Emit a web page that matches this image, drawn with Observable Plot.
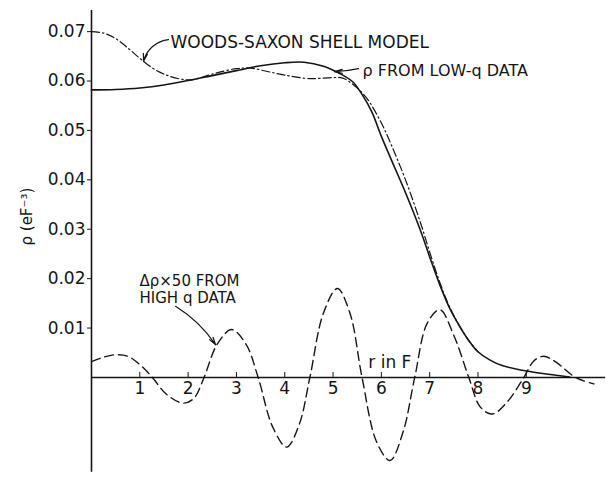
<!DOCTYPE html>
<html><head><meta charset="utf-8">
<script src="https://cdn.jsdelivr.net/npm/d3@7"></script>
<script src="https://cdn.jsdelivr.net/npm/@observablehq/plot@0.6"></script>
<style>html,body{margin:0;padding:0;background:#fff}</style>
</head><body><div id="chart"></div>
<script>
// ρ from low-q data (solid)
const lowR   = [0, 0.5, 1, 1.5, 2, 2.5, 3, 3.5, 4, 4.4, 4.8, 5.1, 5.4, 5.6, 5.8, 6.0, 6.2, 6.5, 6.8, 7.0, 7.2, 7.4, 7.6, 7.8, 8.0, 8.25, 8.5, 9.0, 9.5, 9.9];
const lowRho = [0.0582, 0.0583, 0.0586, 0.0592, 0.0601, 0.0611, 0.0621, 0.0631, 0.0637, 0.0638, 0.0630, 0.0617, 0.0599, 0.0573, 0.0538, 0.0488, 0.0442, 0.0374, 0.0300, 0.0244, 0.0190, 0.0143, 0.0107, 0.0076, 0.0052, 0.0035, 0.0024, 0.0013, 0.0006, 0.0001];
// Woods-Saxon shell model (dash-dot)
const wsR   = [0, 0.25, 0.5, 0.75, 1.0, 1.25, 1.5, 1.84, 2.1, 2.5, 3.0, 3.3, 3.7, 4.0, 4.5, 5.0, 5.2, 5.45, 5.7, 6.0, 6.2, 6.5, 6.8, 7.0, 7.2, 7.4, 7.6, 7.8, 8.0];
const wsRho = [0.0700, 0.0697, 0.0686, 0.0667, 0.0646, 0.0627, 0.0614, 0.0604, 0.0603, 0.0614, 0.0625, 0.0626, 0.0618, 0.0612, 0.0605, 0.0607, 0.0606, 0.0590, 0.0565, 0.0515, 0.0472, 0.0400, 0.0316, 0.0254, 0.0195, 0.0145, 0.0107, 0.0076, 0.0052];
// Δρ × 50 from high-q data (dashed)
const dR   = [0, 0.25, 0.5, 0.75, 1.0, 1.26, 1.55, 1.9, 2.12, 2.33, 2.6, 2.9, 3.2, 3.45, 3.75, 4.04, 4.3, 4.52, 4.8, 5.09, 5.35, 5.6, 5.9, 6.18, 6.45, 6.69, 6.95, 7.21, 7.5, 7.81, 8.05, 8.3, 8.6, 8.95, 9.15, 9.36, 9.6, 10.02, 10.4];
const dRho = [0.0032, 0.0041, 0.0046, 0.0043, 0.0026, 0.0, -0.0034, -0.0052, -0.0042, 0.0, 0.0067, 0.0097, 0.0067, 0.0, -0.0100, -0.0141, -0.0095, 0.0, 0.0130, 0.0180, 0.0130, 0.0, -0.0130, -0.0168, -0.0110, 0.0, 0.0110, 0.0137, 0.0085, 0.0, -0.0060, -0.0074, -0.0050, 0.0, 0.0033, 0.0043, 0.0032, 0.0, -0.0013];

const yTicks = [0.01, 0.02, 0.03, 0.04, 0.05, 0.06, 0.07];
const xTicks = [1, 2, 3, 4, 5, 6, 7, 8, 9];
const yLabel = "ρ (eF⁻³)";
const xLabel = "r in F";

const labelsBig = [
  {text: "WOODS-SAXON SHELL MODEL", r: 1.636, v: 0.0678},
  {text: xLabel, r: 5.73, v: 0.0030}
];
const labelLow = [{text: "ρ FROM LOW-q DATA", r: 5.61, v: 0.0621}];
const labelsD = [
  {text: "Δρ×50 FROM", r: 0.994, v: 0.0195},
  {text: "HIGH q DATA", r: 0.994, v: 0.0160}
];
const arrowWS  = [{r1: 1.594, v1: 0.0684, r2: 1.077, v2: 0.0640}];
const arrowLow = [{r1: 5.528, v1: 0.0625, r2: 5.03, v2: 0.0619}];
const arrowD   = [{r1: 1.74, v1: 0.0144, r2: 2.57, v2: 0.0066}];

const low = lowR.map((r, i) => ({r, v: lowRho[i]}));
const ws = wsR.map((r, i) => ({r, v: wsRho[i]}));
const dd = dR.map((r, i) => ({r, v: dRho[i]}));

const ink = "#151515";
const chart = Plot.plot({
  width: 606, height: 478,
  marginTop: 0, marginBottom: 0, marginLeft: 91, marginRight: 0,
  x: {domain: [0, 10.66], axis: null},
  y: {domain: [-0.02045, 0.0763], axis: null},
  style: {fontFamily: "DejaVu Sans", fontSize: "17px", color: ink, background: "#fff"},
  marks: [
    Plot.ruleX([0], {y1: 0.0743, y2: -0.0192, stroke: ink, strokeWidth: 1.6}),
    Plot.ruleY([0], {x1: 0, x2: 10.64, stroke: ink, strokeWidth: 1.4}),
    Plot.axisY({ticks: yTicks, tickFormat: d => d.toFixed(2), tickSize: 4, tickPadding: 2, label: null, fontSize: 17, stroke: ink}),
    Plot.ruleX(xTicks, {x: d => d, y1: 0, y2: 0, insetTop: -5, stroke: ink, strokeWidth: 1}),
    Plot.text(xTicks, {x: d => d, y: 0, dy: 11, text: d => String(d), fontSize: 17, fill: ink}),
    Plot.text([yLabel], {frameAnchor: "left", dx: -64, dy: 6, rotate: -90, text: d => d, fontSize: 15, fill: ink}),
    Plot.line(dd, {x: "r", y: "v", curve: "catmull-rom", stroke: ink, strokeWidth: 1.4, strokeDasharray: "9,5"}),
    Plot.line(ws, {x: "r", y: "v", curve: "catmull-rom", stroke: ink, strokeWidth: 1.2, strokeDasharray: "8,3,1.5,3"}),
    Plot.line(low, {x: "r", y: "v", curve: "catmull-rom", stroke: ink, strokeWidth: 1.6}),
    Plot.text(labelsBig, {x: "r", y: "v", text: "text", textAnchor: "start", fontSize: 17, fill: ink}),
    Plot.text(labelLow, {x: "r", y: "v", text: "text", textAnchor: "start", fontSize: 16, fill: ink}),
    Plot.text(labelsD, {x: "r", y: "v", text: "text", textAnchor: "start", fontSize: 15, fill: ink}),
    Plot.arrow(arrowWS, {x1: "r1", y1: "v1", x2: "r2", y2: "v2", bend: -35, headLength: 10, headAngle: 30, strokeWidth: 1.2, stroke: ink}),
    Plot.arrow(arrowLow, {x1: "r1", y1: "v1", x2: "r2", y2: "v2", bend: 5, headLength: 10, headAngle: 30, strokeWidth: 1.2, stroke: ink}),
    Plot.arrow(arrowD, {x1: "r1", y1: "v1", x2: "r2", y2: "v2", bend: 12, headLength: 10, headAngle: 30, strokeWidth: 1.2, stroke: ink})
  ]
});
document.getElementById("chart").appendChild(chart);
</script>
</body></html>
